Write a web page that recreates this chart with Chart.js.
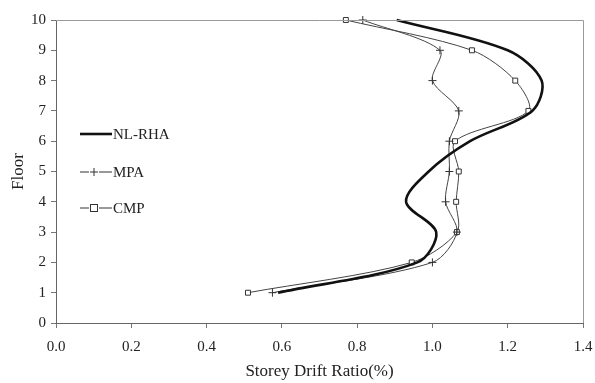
<!DOCTYPE html>
<html>
<head>
<meta charset="utf-8">
<script src="https://cdn.jsdelivr.net/npm/chart.js@4.4.0/dist/chart.umd.min.js"></script>
<style>
  html, body { margin: 0; padding: 0; background: #fff; }
  #wrap { width: 595px; height: 383px; }
</style>
</head>
<body>
<div id="wrap"><canvas id="drift"></canvas></div>
<script>
// storey drift profiles, floor 1..10
const floors = [1, 2, 3, 4, 5, 6, 7, 8, 9, 10];
const nlRha = [0.59, 0.96, 1.01, 0.93, 0.99, 1.10, 1.265, 1.29, 1.20, 0.905];
const mpa = [0.575, 1.00, 1.065, 1.035, 1.045, 1.045, 1.07, 1.00, 1.02, 0.815];
const cmp = [0.51, 0.945, 1.065, 1.063, 1.07, 1.06, 1.255, 1.22, 1.105, 0.77];

const xTicks = [0, 0.2, 0.4, 0.6, 0.8, 1.0, 1.2, 1.4];
const seriesNames = ['NL-RHA', 'MPA', 'CMP'];

const SERIF = '"Liberation Serif", "DejaVu Serif", serif';

function toPoints(vals) {
    return vals.map((v, i) => ({ x: v, y: floors[i] }));
}

// plot frame (top/right) + inline legend on the left
const framePlugin = {
    id: 'frame',
    afterDraw(chart) {
        const { ctx, chartArea: a } = chart;
        ctx.save();
        ctx.strokeStyle = '#9a9a9a';
        ctx.lineWidth = 1;
        ctx.beginPath();
        ctx.moveTo(a.left, a.top + 0.5);
        ctx.lineTo(a.right + 0.5, a.top + 0.5);
        ctx.lineTo(a.right + 0.5, a.bottom);
        ctx.stroke();

        // legend
        const rows = [134, 172, 208];
        const x0 = 80, x1 = 112;
        const cx = 94;
        ctx.font = '15px ' + SERIF;
        ctx.fillStyle = '#222';
        ctx.textBaseline = 'middle';
        rows.forEach((y, i) => {
            ctx.strokeStyle = i === 0 ? '#111' : '#333';
            ctx.lineWidth = i === 0 ? 2.6 : 1;
            ctx.beginPath();
            if (i === 0) {
                ctx.moveTo(x0, y); ctx.lineTo(x1, y);
            } else {
                ctx.moveTo(x0, y); ctx.lineTo(cx - 5, y);
                ctx.moveTo(cx + 5, y); ctx.lineTo(x1, y);
            }
            ctx.stroke();
            if (i === 1) {
                ctx.beginPath();
                ctx.moveTo(cx - 4, y); ctx.lineTo(cx + 4, y);
                ctx.moveTo(cx, y - 4); ctx.lineTo(cx, y + 4);
                ctx.stroke();
            } else if (i === 2) {
                ctx.fillStyle = '#fff';
                ctx.fillRect(cx - 3.5, y - 3.5, 7, 7);
                ctx.strokeRect(cx - 3.5, y - 3.5, 7, 7);
                ctx.fillStyle = '#222';
            }
            ctx.fillText(seriesNames[i], x1 + 1, y + 1);
        });
        ctx.restore();
    }
};

new Chart(document.getElementById('drift'), {
    type: 'scatter',
    data: {
        datasets: [
            {
                label: seriesNames[0],
                data: toPoints(nlRha),
                showLine: true,
                borderColor: '#111',
                borderWidth: 2.6,
                tension: 0.32,
                pointRadius: 0,
                order: 1
            },
            {
                label: seriesNames[1],
                data: toPoints(mpa),
                showLine: true,
                borderColor: '#444',
                borderWidth: 1,
                tension: 0.3,
                pointStyle: 'cross',
                pointRadius: 4,
                pointBorderWidth: 1,
                pointBorderColor: '#333',
                order: 2
            },
            {
                label: seriesNames[2],
                data: toPoints(cmp),
                showLine: true,
                borderColor: '#444',
                borderWidth: 1,
                tension: 0.3,
                pointStyle: 'rect',
                pointRadius: 3.5,
                pointBorderWidth: 1,
                pointBorderColor: '#333',
                pointBackgroundColor: '#fff',
                order: 3
            }
        ]
    },
    options: {
        responsive: true,
        maintainAspectRatio: false,
        animation: false,
        clip: false,
        layout: { padding: { top: 20, right: 12, left: 0, bottom: 0 } },
        plugins: {
            legend: { display: false },
            tooltip: { enabled: false }
        },
        scales: {
            x: {
                type: 'linear',
                min: 0,
                max: 1.4,
                afterBuildTicks: (s) => { s.ticks = xTicks.map(v => ({ value: v })); },
                afterFit: (s) => {
                    s.height = 60;
                    // let the "1.4" label hang past the frame
                    s.paddingRight = 0;
                    s.paddingLeft = 0;
                },
                grid: { drawOnChartArea: false, tickLength: 5, color: '#777' },
                border: { color: '#666', width: 1 },
                ticks: {
                    color: '#222',
                    padding: 10,
                    font: { family: SERIF, size: 15 },
                    callback: (v) => Number(v).toFixed(1)
                },
                title: {
                    display: true,
                    text: 'Storey Drift Ratio(%)',
                    color: '#222',
                    font: { family: SERIF, size: 17 },
                    padding: { top: 0, bottom: 1 }
                }
            },
            y: {
                type: 'linear',
                min: 0,
                max: 10,
                ticks: {
                    stepSize: 1,
                    color: '#222',
                    padding: 5,
                    font: { family: SERIF, size: 15 }
                },
                afterFit: (s) => { s.width = 56; },
                grid: { drawOnChartArea: false, tickLength: 5, color: '#777' },
                border: { color: '#666', width: 1 },
                title: {
                    display: true,
                    text: 'Floor',
                    color: '#222',
                    font: { family: SERIF, size: 17 },
                    padding: { top: 8, bottom: 0 }
                }
            }
        }
    },
    plugins: [framePlugin]
});
</script>
</body>
</html>
